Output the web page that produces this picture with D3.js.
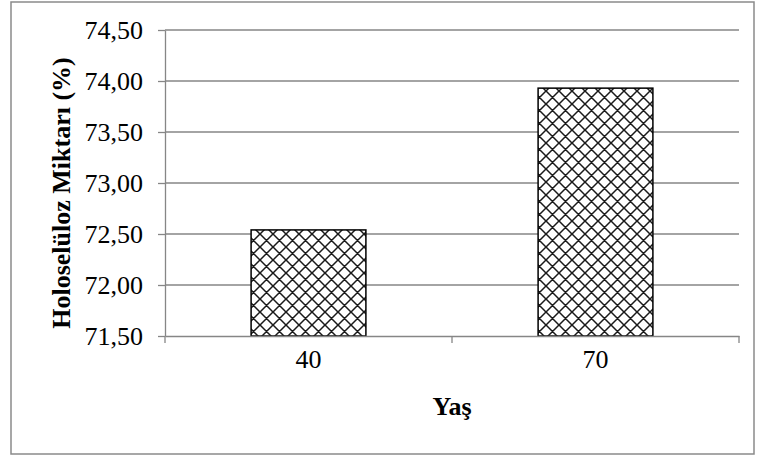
<!DOCTYPE html>
<html>
<head>
<meta charset="utf-8">
<script src="https://cdn.jsdelivr.net/npm/d3@7"></script>
<style>
  html, body { margin: 0; padding: 0; background: #fff; }
  svg { display: block; }
  svg text { font-family: "Liberation Serif", "Times New Roman", serif; }
</style>
</head>
<body>
<svg id="chart" width="757" height="456"></svg>
<script>
// Holoselüloz miktarı by age group
const categories = ["40", "70"];
const values = [72.54, 73.93];
const yTicks = [71.5, 72.0, 72.5, 73.0, 73.5, 74.0, 74.5];
const yTitle = "Holoselüloz Miktarı (%)";
const xTitle = "Yaş";

const plot = { left: 165, right: 739, top: 30, bottom: 336 };
const axisColor = "#868686";
const serif = '"Liberation Serif", "Times New Roman", serif';

const svg = d3.select("#chart");

// cross-hatch fill
const P = 13;
const defs = svg.append("defs");
const pat = defs.append("pattern")
  .attr("id", "hatch")
  .attr("patternUnits", "userSpaceOnUse")
  .attr("width", P).attr("height", P);
pat.append("rect").attr("width", P).attr("height", P).attr("fill", "#fff");
pat.append("path")
  .attr("d", `M-3,-3 L${P + 3},${P + 3} M-3,${P + 3} L${P + 3},-3 ` +
             `M-3,${P - 3} L3,${P + 3} M${P - 3},-3 L${P + 3},3 ` +
             `M-3,3 L3,-3 M${P - 3},${P + 3} L${P + 3},${P - 3}`)
  .attr("stroke", "#1a1a1a").attr("stroke-width", 1.5).attr("fill", "none");

// outer frame
svg.append("rect")
  .attr("x", 11).attr("y", 2).attr("width", 743).attr("height", 452)
  .attr("fill", "none").attr("stroke", "#8a8a8a").attr("stroke-width", 1.5);

const y = d3.scaleLinear().domain([71.5, 74.5]).range([plot.bottom, plot.top]);
const x = d3.scaleBand().domain(categories)
  .range([plot.left, plot.right]).paddingInner(0.6).paddingOuter(0.3);

const fmt = v => d3.format(".2f")(v).replace(".", ",");

// horizontal gridlines
svg.append("g").selectAll("line").data(yTicks.slice(1)).join("line")
  .attr("x1", plot.left).attr("x2", plot.right)
  .attr("y1", d => y(d)).attr("y2", d => y(d))
  .attr("stroke", axisColor).attr("stroke-width", 1.3);

// y axis
const yAxis = svg.append("g")
  .attr("transform", `translate(${plot.left},0)`)
  .call(d3.axisLeft(y).tickValues(yTicks).tickFormat(fmt).tickSize(7).tickSizeOuter(0).tickPadding(15))
  .attr("font-family", serif).attr("font-size", 26);
yAxis.select(".domain").attr("stroke", axisColor).attr("stroke-width", 1.3);
yAxis.selectAll(".tick line").attr("stroke", axisColor).attr("stroke-width", 1.3);
yAxis.selectAll(".tick text").attr("fill", "#000").attr("dy", "0.34em");

// bars
svg.append("g").selectAll("rect").data(values).join("rect")
  .attr("x", (d, i) => x(categories[i]))
  .attr("y", d => y(d))
  .attr("width", x.bandwidth())
  .attr("height", d => y(71.5) - y(d))
  .attr("fill", "url(#hatch)")
  .attr("stroke", "#000").attr("stroke-width", 1.5);

// x axis
const xAxis = svg.append("g")
  .attr("transform", `translate(0,${plot.bottom})`)
  .call(d3.axisBottom(x).tickSize(0).tickSizeOuter(0).tickPadding(14))
  .attr("font-family", serif).attr("font-size", 26);
xAxis.select(".domain").attr("stroke", axisColor).attr("stroke-width", 1.3);
xAxis.selectAll(".tick text").attr("fill", "#000");

// category boundary ticks
const bounds = d3.range(categories.length + 1).map(i => plot.left + i * (plot.right - plot.left) / categories.length);
xAxis.append("g").selectAll("line").data(bounds).join("line")
  .attr("x1", d => d).attr("x2", d => d)
  .attr("y1", 0).attr("y2", 7)
  .attr("stroke", axisColor).attr("stroke-width", 1.3);

// axis titles
svg.append("text")
  .attr("transform", `translate(70,${(plot.top + plot.bottom) / 2 + 10}) rotate(-90)`)
  .attr("text-anchor", "middle")
  .style("font-size", "26px").style("font-weight", "bold")
  .text(yTitle);

svg.append("text")
  .attr("x", (plot.left + plot.right) / 2).attr("y", 415)
  .attr("text-anchor", "middle")
  .style("font-size", "26px").style("font-weight", "bold")
  .text(xTitle);
</script>
</body>
</html>
